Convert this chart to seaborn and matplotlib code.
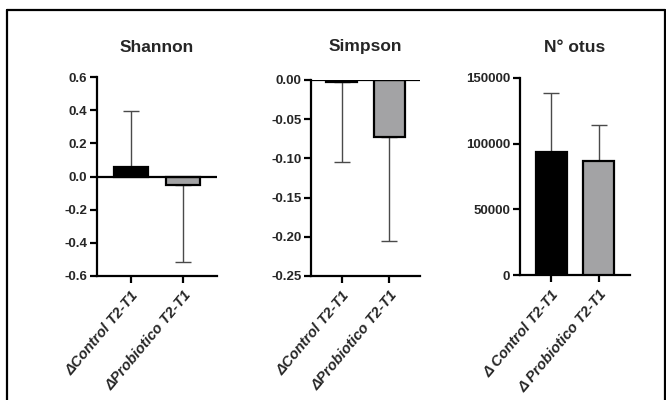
import matplotlib
matplotlib.use("Agg")
import matplotlib.pyplot as plt
import seaborn as sns
import pandas as pd
from matplotlib.lines import Line2D
from matplotlib.ticker import FuncFormatter

# Group labels (two spellings, as on the source figure)
groups = ["\u0394Control T2-T1", "\u0394Probiotico T2-T1"]
groups_otus = ["\u0394 Control T2-T1", "\u0394 Probiotico T2-T1"]

# Mean change and standard deviation for each diversity index
shannon_mean = [0.06, -0.05]
shannon_sd = [0.335, 0.465]
simpson_mean = [-0.002, -0.073]
simpson_sd = [0.103, 0.132]
otus_mean = [93500, 86500]
otus_sd = [45000, 27500]

bar_colors = ["#000000", "#a2a2a6"]

sns.set_style("ticks")
plt.rcParams["font.family"] = ["Liberation Sans", "DejaVu Sans"]

fig = plt.figure(figsize=(6.66, 4.0), dpi=100)
W, H = 666, 400


def px_axes(left, top, right, bottom):
    return fig.add_axes([left / W, (H - bottom) / H, (right - left) / W, (bottom - top) / H])


def panel(ax, labels, means, sds, title, ylim, yticks, fmt, zero_line, top_px):
    df = pd.DataFrame({"group": labels, "value": means})
    sns.barplot(data=df, x="group", y="value", hue="group", palette=bar_colors,
                edgecolor="black", linewidth=1.6, width=0.65, ax=ax,
                legend=False, zorder=3)
    # one-sided error bars pointing away from zero
    lower = [sd if m < 0 else 0 for m, sd in zip(means, sds)]
    upper = [sd if m >= 0 else 0 for m, sd in zip(means, sds)]
    ax.errorbar(range(len(means)), means, yerr=[lower, upper], fmt="none",
                ecolor="#4a4a4a", elinewidth=1.0, capsize=6, capthick=1.0, zorder=2)
    if zero_line:
        ax.axhline(0, color="black", lw=1.6, zorder=4)
    ax.set_xlim(-0.65, 1.65)
    ax.set_ylim(*ylim)
    ax.set_yticks(yticks)
    ax.yaxis.set_major_formatter(FuncFormatter(fmt))
    ax.set_xlabel("")
    ax.set_ylabel("")
    ax.set_xticks(range(len(labels)))
    ax.set_xticklabels(labels, rotation=50, ha="right", rotation_mode="anchor",
                       fontsize=10.5, fontweight="bold", fontstyle="italic")
    for lab in ax.get_yticklabels():
        lab.set_fontweight("bold")
        lab.set_fontsize(9.5)
    sns.despine(ax=ax)
    for side in ("left", "bottom"):
        ax.spines[side].set_linewidth(1.6)
        ax.spines[side].set_color("black")
    ax.tick_params(axis="both", length=5, width=1.6, color="black", pad=2)
    ax.tick_params(axis="x", pad=4)
    ax.patch.set_alpha(0)
    height_px = ax.get_position().height * H
    ax.text(0.5, 1 + (top_px - 47) / height_px, title, transform=ax.transAxes,
            ha="center", va="center", fontsize=12.5, fontweight="bold")


ax1 = px_axes(97, 77, 217, 276)
panel(ax1, groups, shannon_mean, shannon_sd, "Shannon", (-0.6, 0.6),
      [-0.6, -0.4, -0.2, 0.0, 0.2, 0.4, 0.6], lambda v, p: f"{v:.1f}".replace("\u2212", "-"),
      True, 77)

ax2 = px_axes(311, 80, 420, 276)
panel(ax2, groups, simpson_mean, simpson_sd, "Simpson", (-0.25, 0.0),
      [-0.25, -0.20, -0.15, -0.10, -0.05, 0.0], lambda v, p: f"{v:.2f}" if abs(v) > 1e-9 else "0.00",
      True, 80)

ax3 = px_axes(520, 78, 630, 275)
panel(ax3, groups_otus, otus_mean, otus_sd, "N\u00b0 otus", (0, 150000),
      [0, 50000, 100000, 150000], lambda v, p: f"{int(round(v))}",
      False, 78)

# frame around the figure
lw = 1.6
fig.add_artist(Line2D([7 / W, 7 / W], [0, 1 - 10 / H], transform=fig.transFigure, color="black", lw=lw))
fig.add_artist(Line2D([7 / W, 665 / W], [1 - 10 / H, 1 - 10 / H], transform=fig.transFigure, color="black", lw=lw))
fig.add_artist(Line2D([665 / W, 665 / W], [0, 1 - 10 / H], transform=fig.transFigure, color="black", lw=lw))

fig.savefig("out.png", dpi=100, facecolor="white")
